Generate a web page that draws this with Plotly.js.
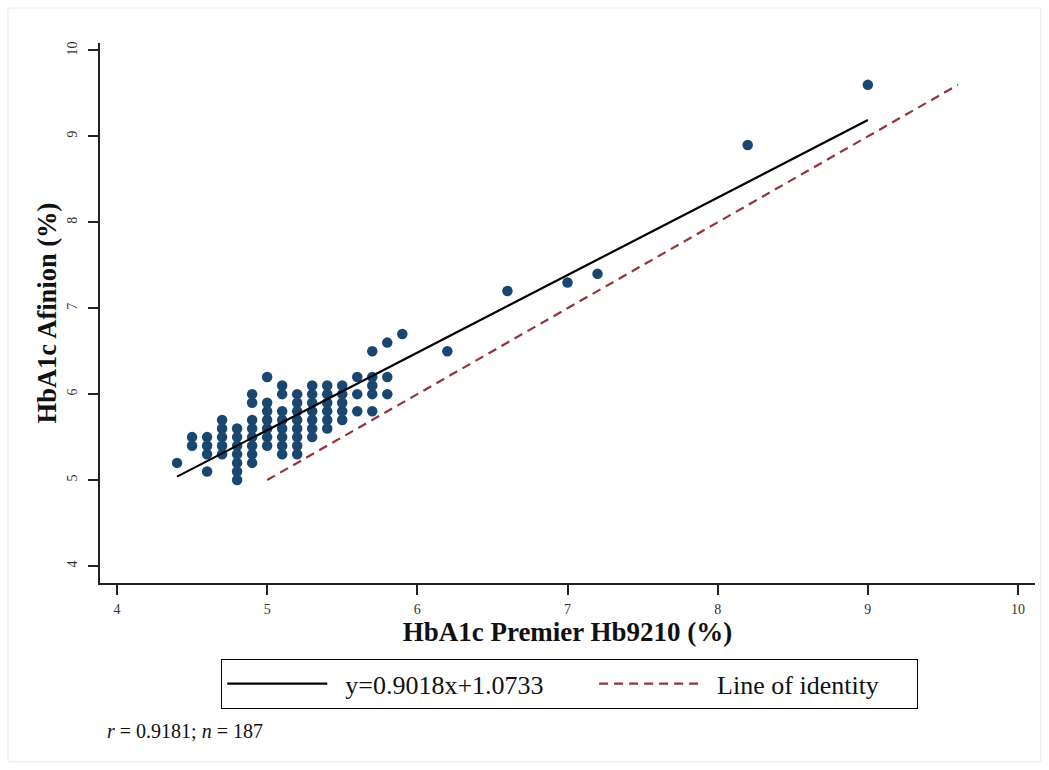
<!DOCTYPE html>
<html>
<head>
<meta charset="utf-8">
<script src="https://cdn.plot.ly/plotly-3.0.1.min.js"></script>
<style>html,body{margin:0;padding:0;background:#fff;}#chart{width:1049px;height:770px;}</style>
</head>
<body>
<div id="chart"></div>
<script>
// Scatter points: HbA1c Premier Hb9210 (x) vs HbA1c Afinion (y)
var premierX = [
  4.4,
  4.5, 4.5,
  4.6, 4.6, 4.6, 4.6,
  4.7, 4.7, 4.7, 4.7, 4.7,
  4.8, 4.8, 4.8, 4.8, 4.8, 4.8, 4.8,
  4.9, 4.9, 4.9, 4.9, 4.9, 4.9, 4.9, 4.9,
  5.0, 5.0, 5.0, 5.0, 5.0, 5.0, 5.0,
  5.1, 5.1, 5.1, 5.1, 5.1, 5.1, 5.1, 5.1,
  5.2, 5.2, 5.2, 5.2, 5.2, 5.2, 5.2, 5.2,
  5.3, 5.3, 5.3, 5.3, 5.3, 5.3, 5.3,
  5.4, 5.4, 5.4, 5.4, 5.4, 5.4,
  5.5, 5.5, 5.5, 5.5, 5.5,
  5.6, 5.6, 5.6,
  5.7, 5.7, 5.7, 5.7, 5.7,
  5.8, 5.8, 5.8,
  5.9,
  6.2,
  6.6,
  7.0,
  7.2,
  8.2,
  9.0
];
var afinionY = [
  5.2,
  5.5, 5.4,
  5.5, 5.4, 5.3, 5.1,
  5.7, 5.6, 5.5, 5.4, 5.3,
  5.6, 5.5, 5.4, 5.3, 5.2, 5.1, 5.0,
  6.0, 5.9, 5.7, 5.6, 5.5, 5.4, 5.3, 5.2,
  6.2, 5.9, 5.8, 5.7, 5.6, 5.5, 5.4,
  6.1, 6.0, 5.8, 5.7, 5.6, 5.5, 5.4, 5.3,
  6.0, 5.9, 5.8, 5.7, 5.6, 5.5, 5.4, 5.3,
  6.1, 6.0, 5.9, 5.8, 5.7, 5.6, 5.5,
  6.1, 6.0, 5.9, 5.8, 5.7, 5.6,
  6.1, 6.0, 5.9, 5.8, 5.7,
  6.2, 6.0, 5.8,
  6.5, 6.2, 6.1, 6.0, 5.8,
  6.6, 6.2, 6.0,
  6.7,
  6.5,
  7.2,
  7.3,
  7.4,
  8.9,
  9.6
];
// Fitted regression line y=0.9018x+1.0733 (endpoints)
var fitX = [4.4, 9.0];
var fitY = [5.04, 9.19];
// Line of identity (endpoints)
var identX = [5.0, 9.6];
var identY = [5.0, 9.6];
var tickVals = [4, 5, 6, 7, 8, 9, 10];
var tickText = ['4', '5', '6', '7', '8', '9', '10'];
var fitLabel = 'y=0.9018x+1.0733';
var identLabel = 'Line of identity';
var xTitle = 'HbA1c Premier Hb9210 (%)';
var yTitle = 'HbA1c Afinion (%)';
var note = '<i>r</i> = 0.9181; <i>n</i> = 187';

var SERIF = '"Liberation Serif", "DejaVu Serif", serif';
var NB = '\u00a0';
function pad(n) { var s = ''; for (var i = 0; i < n; i++) s += NB; return s; }

var traces = [
  {
    x: premierX, y: afinionY, type: 'scatter', mode: 'markers',
    marker: {color: '#1a476f', size: 10.5, line: {width: 0}},
    showlegend: false, hoverinfo: 'x+y'
  },
  {
    x: fitX, y: fitY, type: 'scatter', mode: 'lines',
    line: {color: '#000000', width: 2.2},
    name: pad(2) + fitLabel + pad(7)
  },
  {
    x: identX, y: identY, type: 'scatter', mode: 'lines',
    line: {color: '#90353b', width: 2.2, dash: '9px,6px'},
    name: pad(2) + identLabel + pad(5)
  }
];

var layout = {
  width: 1049, height: 770,
  paper_bgcolor: '#ffffff', plot_bgcolor: '#ffffff',
  margin: {l: 100, r: 14, t: 43, b: 187, pad: 0},
  font: {family: SERIF, color: '#222222'},
  showlegend: true,
  legend: {
    orientation: 'h', x: 0.1294, y: -0.1407, xanchor: 'left', yanchor: 'top',
    bordercolor: '#000000', borderwidth: 1.3, bgcolor: '#ffffff',
    font: {family: SERIF, size: 26, color: '#111111'},
    itemwidth: 100, itemclick: false, itemdoubleclick: false
  },
  xaxis: {
    range: [3.887, 10.113], tickmode: 'array', tickvals: tickVals, ticktext: tickText,
    showgrid: false, zeroline: false, showline: true, linecolor: '#222222', linewidth: 1.5,
    ticks: 'outside', ticklen: 10, tickwidth: 1.5, tickcolor: '#222222',
    tickfont: {family: SERIF, size: 14, color: '#333333'}, ticklabelstandoff: 2,
    title: {text: '<b>' + xTitle + '</b>', font: {family: SERIF, size: 27, color: '#111111'}, standoff: 0},
    automargin: false
  },
  yaxis: {
    range: [3.802, 10.087], tickmode: 'array', tickvals: tickVals, ticktext: tickText,
    showgrid: false, zeroline: false, showline: true, linecolor: '#222222', linewidth: 1.5,
    ticks: 'outside', ticklen: 10, tickwidth: 1.5, tickcolor: '#222222', tickangle: -90,
    tickfont: {family: SERIF, size: 14, color: '#333333'}, ticklabelstandoff: 6,
    title: {text: '<b>' + yTitle + '</b>', font: {family: SERIF, size: 26.5, color: '#111111'}, standoff: 0},
    automargin: false
  },
  shapes: [
    {type: 'rect', xref: 'paper', yref: 'paper', x0: -0.0984, x1: 1.006, y0: -0.331, y1: 1.0648,
     line: {color: '#eaeaea', width: 1}, fillcolor: 'rgba(0,0,0,0)', layer: 'below'}
  ],
  annotations: [
    {xref: 'paper', yref: 'paper', x: 0.005, y: -0.274, xanchor: 'left', yanchor: 'middle',
     text: note, showarrow: false, font: {family: SERIF, size: 20, color: '#111111'}}
  ]
};

Plotly.newPlot('chart', traces, layout, {displayModeBar: false});
</script>
</body>
</html>
